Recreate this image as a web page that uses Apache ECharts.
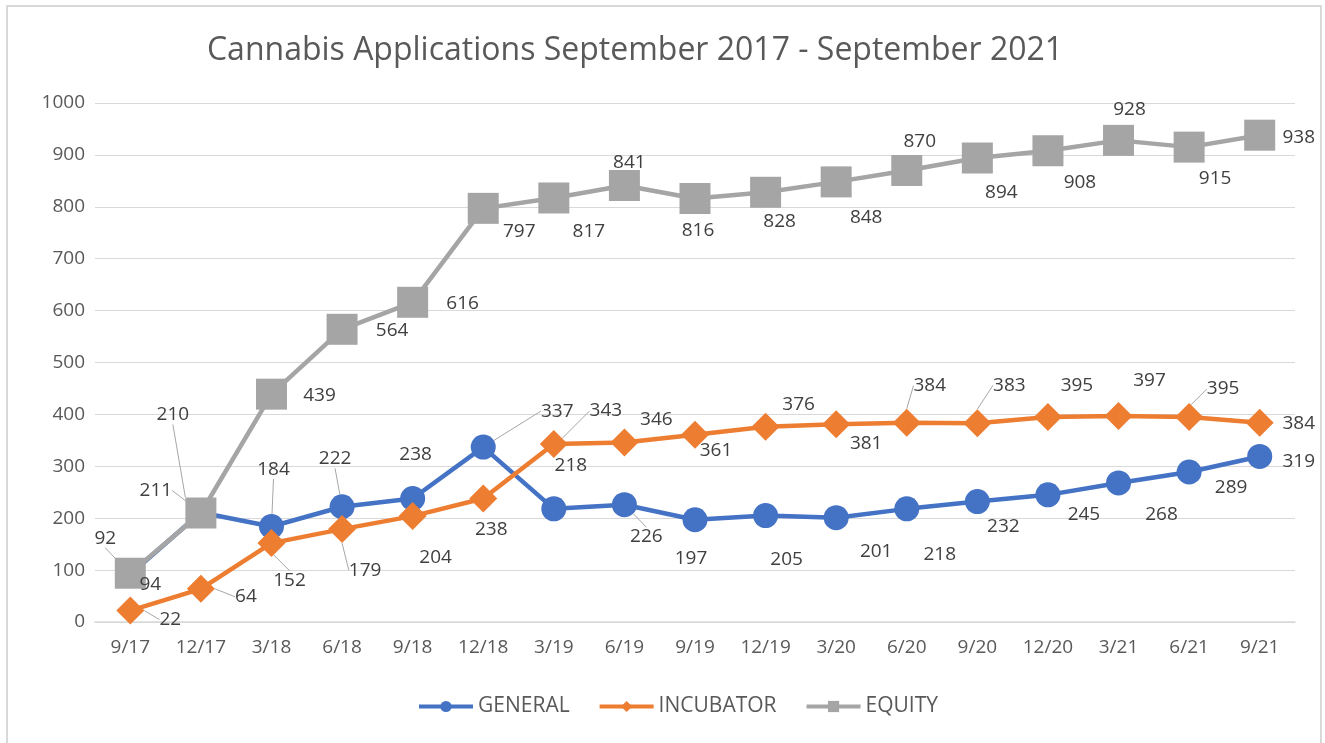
<!DOCTYPE html>
<html>
<head>
<meta charset="utf-8">
<script src="https://cdn.jsdelivr.net/npm/echarts@6/dist/echarts.min.js"></script>
<style>
  html, body { margin: 0; padding: 0; background: #fff; }
  #frame { position: absolute; left: 6px; top: 5px; width: 1316px; height: 760px; border: 2px solid #d9d9d9; box-sizing: border-box; }
  #main { position: absolute; left: 0; top: 0; width: 1325px; height: 743px; }
</style>
</head>
<body>
<div id="frame"></div>
<div id="main"></div>
<script>
// quarters
var categories = ['9/17', '12/17', '3/18', '6/18', '9/18', '12/18', '3/19', '6/19', '9/19',
  '12/19', '3/20', '6/20', '9/20', '12/20', '3/21', '6/21', '9/21'];

var general = [92, 211, 184, 222, 238, 337, 218, 226, 197, 205, 201, 218, 232, 245, 268, 289, 319];
var incubator = [22, 64, 152, 179, 204, 238, 343, 346, 361, 376, 381, 384, 383, 395, 397, 395, 384];
var equity = [94, 210, 439, 564, 616, 797, 817, 841, 816, 828, 848, 870, 894, 908, 928, 915, 938];

// label offsets from point (px), placed like the Excel labels
var generalOffsets = [[-25, -36], [-45, -22], [2, -57], [-7, -48], [3, -44], [74, -36], [17, -43], [22, 32], [-4, 39],
  [21, 44], [40, 34], [33, 46], [26, 25], [36, 20], [43, 32], [42, 16], [39, 5]];
var incubatorOffsets = [[40, 9], [45, 8], [18, 37], [23, 41], [23, 41], [8, 31], [52, -33], [32, -23], [21, 16],
  [33, -22], [30, 19], [23, -37], [32, -38], [29, -31], [31, -35], [34, -28], [39, 1]];
var equityOffsets = [[20, 11], [-28, -98], [48, 1], [50, 1], [50, 1], [36, 23], [35, 34], [5, -23], [3, 32],
  [14, 29], [30, 36], [13, -29], [24, 35], [32, 32], [11, -31], [26, 31], [39, 2]];

// which labels get a grey leader line
var generalLeaders = [0, 1, 2, 3, 5, 7];
var incubatorLeaders = [0, 1, 2, 3, 6, 11, 12, 15];
var equityLeaders = [1];

var FONT = 'Open Sans';

function withLabels(values, leaders) {
  return values.map(function (v, i) {
    return { value: v, labelLine: { show: leaders.indexOf(i) >= 0 } };
  });
}

function makeSeries(name, values, offsets, leaders, color, symbol, size) {
  return {
    name: name,
    type: 'line',
    data: withLabels(values, leaders),
    symbol: symbol,
    symbolSize: size,
    lineStyle: { width: 4.5, color: color },
    itemStyle: { color: color },
    label: {
      show: true,
      position: 'inside',
      color: '#404040',
      fontSize: 19,
      fontFamily: FONT
    },
    labelLine: { lineStyle: { color: '#a6a6a6', width: 1 } },
    labelLayout: function (p) {
      var o = offsets[p.dataIndex];
      return { dx: o[0], dy: o[1] };
    }
  };
}

var chart = echarts.init(document.getElementById('main'));

var option = {
  animation: false,
  title: {
    text: 'Cannabis Applications September 2017 - September 2021',
    left: 630,
    textAlign: 'center',
    top: 30,
    textStyle: { color: '#595959', fontSize: 32, fontWeight: 'normal', fontFamily: FONT }
  },
  legend: {
    bottom: 21,
    left: 412,
    itemWidth: 54,
    itemHeight: 14,
    itemGap: 28,
    lineStyle: { width: 4 },
    textStyle: { color: '#595959', fontSize: 21, fontFamily: FONT },
    data: ['GENERAL', 'INCUBATOR', 'EQUITY']
  },
  grid: { left: 95, right: 30, top: 103, bottom: 121, containLabel: false },
  xAxis: {
    type: 'category',
    data: categories,
    axisLine: { lineStyle: { color: '#d9d9d9', width: 1.5 } },
    axisTick: { show: false },
    axisLabel: { color: '#595959', fontSize: 19, fontFamily: FONT, margin: 16 }
  },
  yAxis: {
    type: 'value',
    min: 0,
    max: 1000,
    interval: 100,
    axisLine: { show: false },
    axisTick: { show: false },
    axisLabel: {
      color: '#595959', fontSize: 19, fontFamily: FONT, margin: 10,
      formatter: function (v) { return String(v); }
    },
    splitLine: { lineStyle: { color: '#d9d9d9', width: 1.2 } }
  },
  series: [
    makeSeries('GENERAL', general, generalOffsets, generalLeaders, '#4472C4', 'circle', 25),
    makeSeries('INCUBATOR', incubator, incubatorOffsets, incubatorLeaders, '#ED7D31', 'diamond', 28),
    makeSeries('EQUITY', equity, equityOffsets, equityLeaders, '#A5A5A5', 'rect', 31)
  ]
};

chart.setOption(option);
</script>
</body>
</html>
